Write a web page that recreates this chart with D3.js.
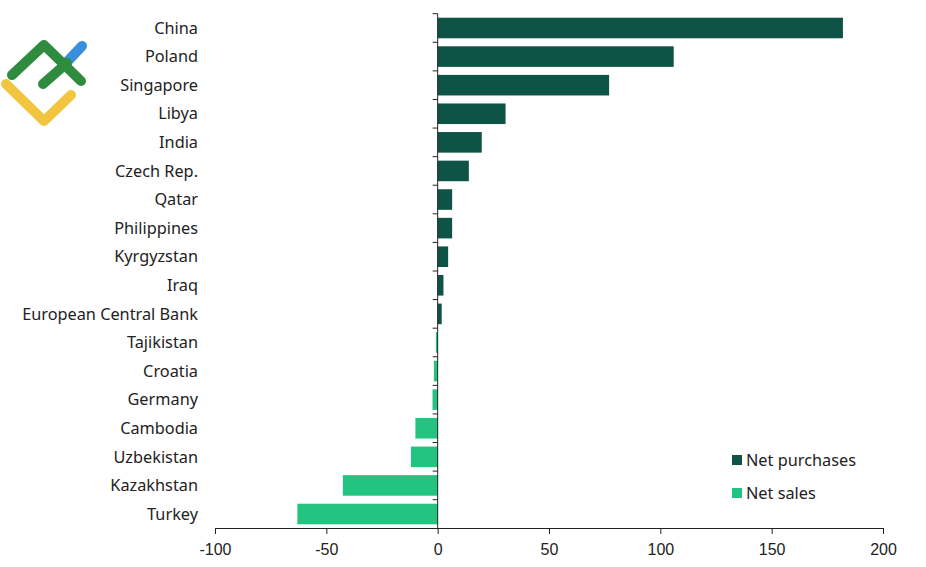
<!DOCTYPE html>
<html>
<head>
<meta charset="utf-8">
<script src="https://cdn.jsdelivr.net/npm/d3@7"></script>
<style>
  body { margin: 0; background: #fff; }
  svg { font-family: "Noto Sans", "Open Sans", sans-serif; }
  .axis path, .axis line { stroke: #222; }
  .axis text { font-size: 16px; fill: #222; }
</style>
</head>
<body>
<div id="chart"></div>
<script>
var countries = ["China", "Poland", "Singapore", "Libya", "India", "Czech Rep.", "Qatar",
  "Philippines", "Kyrgyzstan", "Iraq", "European Central Bank", "Tajikistan", "Croatia",
  "Germany", "Cambodia", "Uzbekistan", "Kazakhstan", "Turkey"];
var tonnes = [182, 106, 77, 30.5, 19.8, 14, 6.5, 6.5, 4.7, 2.6, 1.8, -0.8, -1.7, -2.3,
  -10, -12, -42.6, -63];
var xTicks = [-100, -50, 0, 50, 100, 150, 200];
var legendLabels = ["Net purchases", "Net sales"];

var darkGreen = "#0d5446", lightGreen = "#22c47f";

var width = 926, height = 567;
var svg = d3.select("#chart").append("svg")
  .attr("width", width)
  .attr("height", height);

var x = d3.scaleLinear().domain([-100, 200]).range([215, 883]);
var y = d3.scaleBand().domain(countries).range([13.7, 528.3]).paddingInner(0.28).paddingOuter(0.14);
var axisY = 528;

// bars
svg.selectAll("rect.bar")
  .data(countries)
  .enter()
  .append("rect")
  .attr("class", "bar")
  .attr("x", function (d, i) { return x(Math.min(0, tonnes[i])); })
  .attr("y", function (d) { return y(d); })
  .attr("width", function (d, i) { return Math.abs(x(tonnes[i]) - x(0)); })
  .attr("height", y.bandwidth())
  .style("fill", function (d, i) { return tonnes[i] >= 0 ? darkGreen : lightGreen; });

// category labels
svg.selectAll("text.cat")
  .data(countries)
  .enter()
  .append("text")
  .attr("class", "cat")
  .attr("x", 198)
  .attr("y", function (d) { return y(d) + y.bandwidth() / 2; })
  .attr("dy", "0.35em")
  .attr("text-anchor", "end")
  .style("font-size", "16.3px")
  .style("fill", "#222")
  .text(function (d) { return d; });

// x axis
svg.append("g")
  .attr("class", "axis")
  .attr("transform", "translate(0," + axisY + ")")
  .call(d3.axisBottom(x).tickValues(xTicks).tickSize(6).tickSizeOuter(6).tickPadding(10)
    .tickFormat(function (d) { return String(d); }));

// vertical zero line with ticks at category boundaries
var step = y.step();
var y0 = y.range()[0];
var bounds = d3.range(countries.length + 1).map(function (i) { return y0 + i * step; });
svg.append("line")
  .attr("x1", x(0)).attr("x2", x(0))
  .attr("y1", y0).attr("y2", axisY)
  .style("stroke", "#222");
svg.selectAll("line.ytick")
  .data(bounds.slice(0, -1))
  .enter()
  .append("line")
  .attr("class", "ytick")
  .attr("x1", x(0) - 5).attr("x2", x(0))
  .attr("y1", function (d) { return d; })
  .attr("y2", function (d) { return d; })
  .style("stroke", "#222");

// legend
var legend = svg.selectAll("g.legend")
  .data(legendLabels)
  .enter()
  .append("g")
  .attr("class", "legend")
  .attr("transform", function (d, i) { return "translate(732," + (460 + i * 33) + ")"; });
legend.append("rect")
  .attr("x", 0).attr("y", -5)
  .attr("width", 10).attr("height", 10)
  .style("fill", function (d, i) { return i === 0 ? darkGreen : lightGreen; });
legend.append("text")
  .attr("x", 14)
  .attr("dy", "0.35em")
  .style("font-size", "16.3px")
  .style("fill", "#222")
  .text(function (d) { return d; });

// logo in the top-left corner
var logo = svg.append("g")
  .style("fill", "none")
  .style("stroke-linecap", "round")
  .style("stroke-linejoin", "round")
  .style("stroke-width", 10);
logo.append("path").attr("d", "M66,63 L82,46").style("stroke", "#3a8fdc");
logo.append("path").attr("d", "M6,84 L44,121 L71,95").style("stroke", "#f1c540");
logo.append("path").attr("d", "M12,75 L44,45 L81,81").style("stroke", "#2f8c3f");
logo.append("path").attr("d", "M43,84 L67,63").style("stroke", "#2f8c3f");
</script>
</body>
</html>
